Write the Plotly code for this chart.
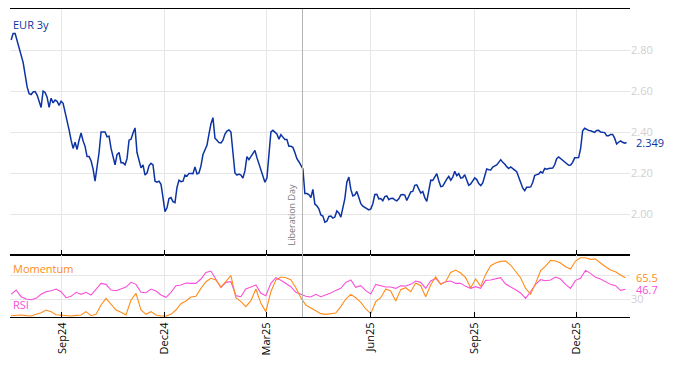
import plotly.graph_objects as go
import pandas as pd

# ---------------- data ----------------
eur3y = [
    2.849, 2.88, 2.88, 2.845, 2.82, 2.787, 2.74, 2.68, 2.62, 2.587,
    2.583, 2.595, 2.597, 2.58, 2.55, 2.52, 2.60, 2.593, 2.57, 2.52,
    2.565, 2.542, 2.556, 2.55, 2.53, 2.55, 2.54, 2.50, 2.455, 2.41,
    2.36, 2.32, 2.35, 2.315, 2.36, 2.395, 2.357, 2.33, 2.28, 2.28,
    2.26, 2.22, 2.16, 2.23, 2.30, 2.40, 2.40, 2.40, 2.377, 2.38,
    2.32, 2.275, 2.24, 2.29, 2.30, 2.25, 2.25, 2.24, 2.27, 2.36,
    2.365, 2.395, 2.42, 2.30, 2.26, 2.225, 2.24, 2.19, 2.20, 2.235,
    2.247, 2.24, 2.16, 2.155, 2.16, 2.145, 2.08, 2.012, 2.03, 2.075,
    2.08, 2.06, 2.055, 2.13, 2.165, 2.158, 2.16, 2.19, 2.185, 2.198,
    2.198, 2.197, 2.23, 2.195, 2.2, 2.235, 2.29, 2.314, 2.335, 2.39,
    2.44, 2.47, 2.37, 2.36,
    2.348, 2.347, 2.36, 2.39, 2.405, 2.41, 2.40, 2.30, 2.20, 2.19,
    2.195, 2.19, 2.175, 2.21, 2.28, 2.265, 2.282, 2.295, 2.31, 2.275,
    2.243, 2.222, 2.19, 2.155, 2.175, 2.30, 2.40, 2.408, 2.398, 2.39,
    2.365, 2.387, 2.375, 2.363, 2.363, 2.33, 2.33, 2.325, 2.30, 2.27,
    2.255, 2.24, 2.22, 2.10, 2.10, 2.095, 2.08, 2.12, 2.048, 2.04,
    2.025, 1.995, 1.99, 1.96, 1.965, 1.988, 1.99, 1.98, 1.985, 2.015,
    2.005, 1.985, 2.035, 2.075, 2.155, 2.18, 2.12, 2.088, 2.093, 2.11,
    2.08, 2.05, 2.038, 2.033, 2.025, 2.02, 2.025, 2.05, 2.095, 2.096,
    2.074, 2.075, 2.065, 2.085, 2.088, 2.07, 2.076, 2.077, 2.069, 2.064,
    2.074, 2.093, 2.095, 2.092, 2.066, 2.087, 2.108, 2.11, 2.14, 2.142,
    2.12, 2.102, 2.11, 2.08,
    2.062, 2.12, 2.165, 2.164, 2.183, 2.197, 2.162, 2.134, 2.136, 2.155,
    2.17, 2.183, 2.165, 2.18, 2.208, 2.187, 2.197, 2.175, 2.178, 2.192,
    2.167, 2.14, 2.147, 2.16, 2.176, 2.168, 2.148, 2.139, 2.152, 2.185,
    2.22, 2.216, 2.215, 2.229, 2.234, 2.239, 2.252, 2.265, 2.252, 2.244,
    2.231, 2.222, 2.23, 2.224, 2.214, 2.206, 2.176, 2.154, 2.127, 2.114,
    2.13, 2.13, 2.132, 2.154, 2.188, 2.192, 2.195, 2.206, 2.2, 2.222,
    2.219, 2.222, 2.223, 2.224, 2.24, 2.27, 2.278, 2.27, 2.262, 2.25,
    2.243, 2.238, 2.239, 2.252, 2.274, 2.274, 2.275, 2.32, 2.406, 2.418,
    2.412, 2.408, 2.406, 2.4, 2.398, 2.407, 2.408, 2.4, 2.4, 2.397,
    2.382, 2.382, 2.388, 2.388, 2.37, 2.342, 2.35, 2.357, 2.35, 2.345,
    2.349,
]

momentum = [
    3.0, 3.2, 4.3, 3.2, 2.6, 5.4, 8.1, 12.5, 9.8, 4.8,
    4.3, 4.3, 2.6, 3.7, 4.3, 9.8, 3.2, 5.4, 20.7, 31.7,
    21.8, 12.5, 8.7, 4.3, 28.9, 39.9, 12.5, 5.4, 9.8, 4.3,
    2.6, 2.6, 5.4, 12.5, 22.9, 27.3, 33.9, 35.0, 48.1, 59.1,
    64.6, 62.0,
    50.3, 59.1, 69.0, 32.8, 26.2, 18.0, 27.9, 47.0, 23.5, 9.8,
    42.6, 61.8, 66.8, 65.7, 62.4, 49.2, 32.8, 20.7, 16.3, 12.0,
    6.5, 5.4, 6.5, 7.6, 18.0, 30.6, 38.3, 32.8, 25.1, 14.2,
    6.5, 26.2, 32.8, 47.0, 43.7, 27.3, 46.0, 49.2, 42.6, 56.9,
    52.5, 34.4,
    53.6, 67.3, 54.7, 59.1, 74.4, 78.3, 73.3, 65.7, 49.2, 63.5,
    51.4, 71.1, 85.4, 89.8, 92.5, 93.1, 86.5, 76.6, 65.7, 48.1,
    38.8, 56.3, 77.2, 84.8, 94.2, 93.1, 89.8, 83.7, 79.9, 93.1,
    98.5, 98.5, 95.8, 96.4, 89.8, 83.7, 78.3, 75.5, 70.0, 65.5,
]

rsi = [
    38.3, 45.4, 34.4, 30.5, 29.5, 31.7, 38.3, 42.6, 44.3, 47.0,
    42.6, 32.8, 35.0, 41.6, 38.3, 41.6, 37.2, 47.0, 56.3, 54.7,
    45.4, 44.3, 47.0, 50.3, 58.0, 54.7, 41.6, 41.0, 47.0, 43.7,
    37.2, 33.3, 41.6, 52.5, 53.6, 56.9, 56.3, 56.3, 63.5, 74.4,
    76.6, 63.5,
    49.2, 58.0, 59.1, 36.1, 34.4, 47.0, 50.9, 53.6, 39.9, 36.1,
    56.3, 65.7, 61.3, 55.8, 50.9, 41.6, 38.8, 35.0, 33.9, 38.3,
    34.4, 37.2, 40.5, 44.8, 48.1, 58.0, 61.8, 49.8, 52.5, 44.3,
    38.8, 54.7, 52.0, 50.3, 50.3, 48.1, 52.5, 52.0, 54.7, 60.2,
    58.0, 48.1,
    60.2, 64.6, 55.3, 59.1, 60.2, 56.3, 56.3, 51.4, 48.1, 50.9,
    48.1, 61.3, 61.8, 63.5, 65.7, 55.3, 50.9, 45.9, 40.5, 31.7,
    42.6, 54.7, 62.4, 60.7, 61.8, 66.8, 63.5, 54.7, 48.1, 61.3,
    64.6, 77.7, 72.8, 66.2, 63.5, 59.1, 54.7, 52.5, 44.8, 46.7,
]

main_start, main_end = "2024-07-18", "2026-01-14"
osc_start, osc_end = "2024-07-18", "2026-01-13"
event_date = "2025-04-02"
event_label = "Liberation Day"
y_ticks = [2.0, 2.2, 2.4, 2.6, 2.8]
osc_ticks = [30, 70]

dates_main = pd.date_range(main_start, main_end, periods=len(eur3y))
dates_osc = pd.date_range(osc_start, osc_end, periods=len(rsi))

BLUE = "#0c33a3"
ORANGE = "#ff8c1a"
PINK = "#f84fd9"
GRID = "#e6e6e6"
TICKGREY = "#d0d0d0"
FONT = "Open Sans, verdana, arial, sans-serif"

split = 62 / 308

fig = go.Figure()
fig.add_trace(go.Scatter(x=dates_main, y=eur3y, mode="lines",
                         line=dict(color=BLUE, width=1.5), xaxis="x", yaxis="y"))
fig.add_trace(go.Scatter(x=dates_osc, y=rsi, mode="lines",
                         line=dict(color=PINK, width=1.1), xaxis="x2", yaxis="y2"))
fig.add_trace(go.Scatter(x=dates_osc, y=momentum, mode="lines",
                         line=dict(color=ORANGE, width=1.1), xaxis="x2", yaxis="y2"))

xcommon = dict(
    type="date", range=["2024-07-17", "2026-01-17"],
    tick0="2024-09-01", dtick="M3", automargin=False,
    ticks="inside", ticklen=5, tickcolor="black", tickwidth=1,
    showline=True, linecolor="black", linewidth=1, mirror=True,
    showgrid=True, gridcolor=GRID, gridwidth=1, zeroline=False,
)
ycommon = dict(
    side="right", automargin=False,
    tickfont=dict(size=11, color=TICKGREY), ticks="",
    showgrid=True, gridcolor=GRID, zeroline=False, showline=False,
)

# the page body adds an 8px offset; the figure is sized to fill the rest
fig.update_layout(
    template="none",
    width=666, height=358,
    margin=dict(l=2, r=44, t=1, b=49, pad=0),
    paper_bgcolor="white", plot_bgcolor="white",
    showlegend=False,
    font=dict(family=FONT, size=11, color="black"),
    xaxis=dict(domain=[0, 1], anchor="y", showticklabels=False, **xcommon),
    xaxis2=dict(domain=[0, 1], anchor="y2", matches="x", tickformat="%b%y",
                tickangle=-90, tickfont=dict(size=11, color="black"), **xcommon),
    yaxis=dict(domain=[split, 1], range=[1.8, 3.0], tickvals=y_ticks,
               tickformat=".2f", **ycommon),
    yaxis2=dict(domain=[0, split], range=[1, 103], tickvals=osc_ticks,
                ticktext=["30", ""], **ycommon),
)

fig.add_shape(type="line", xref="x", yref="paper", x0=event_date, x1=event_date,
              y0=0, y1=1, line=dict(color="#b4b4b4", width=1))

ann = []
ann.append(dict(text="EUR 3y", xref="paper", x=0, xanchor="left", xshift=1,
                yref="y domain", y=1, yanchor="top", yshift=-6,
                font=dict(color=BLUE, size=11), showarrow=False))
ann.append(dict(text=f"{eur3y[-1]:.3f}", xref="paper", x=1, xanchor="left", xshift=4,
                yref="y", y=eur3y[-1], yanchor="middle",
                font=dict(color=BLUE, size=11), showarrow=False))
ann.append(dict(text="Momentum", xref="paper", x=0, xanchor="left", xshift=1,
                yref="y2 domain", y=1, yanchor="top", yshift=-4,
                font=dict(color=ORANGE, size=11), showarrow=False))
ann.append(dict(text="RSI", xref="paper", x=0, xanchor="left", xshift=1,
                yref="y2 domain", y=0, yanchor="bottom", yshift=3,
                font=dict(color=PINK, size=11), showarrow=False))
ann.append(dict(text=f"{momentum[-1]:.1f}", xref="paper", x=1, xanchor="left", xshift=5,
                yref="y2", y=momentum[-1], yanchor="middle", borderpad=0,
                font=dict(color=ORANGE, size=11), showarrow=False))
ann.append(dict(text=f"{rsi[-1]:.1f}", xref="paper", x=1, xanchor="left", xshift=5,
                yref="y2", y=rsi[-1], yanchor="middle", borderpad=0,
                font=dict(color=PINK, size=11), showarrow=False))
ann.append(dict(text=event_label, xref="x", x=event_date, xanchor="right", xshift=-3,
                yref="y domain", y=0, yanchor="bottom", yshift=7, textangle=-90,
                font=dict(color="#777777", size=9), showarrow=False))
fig.update_layout(annotations=ann)

fig.write_html("out.html")
